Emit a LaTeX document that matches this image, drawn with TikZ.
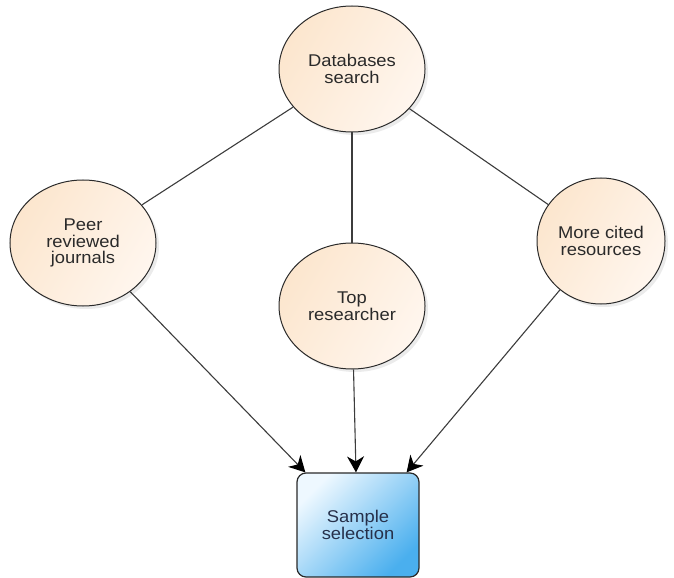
\documentclass[tikz,border=0pt]{standalone}
\usepackage{fontspec}
\setmainfont{Liberation Sans}[FakeStretch=1.08]
\usetikzlibrary{shapes.geometric,arrows.meta,shadows}

\definecolor{peachL}{HTML}{FCE6CE}
\definecolor{peachR}{HTML}{FFF6EE}
\definecolor{skyL}{HTML}{EEF8FF}
\definecolor{skyD}{HTML}{4AAFEE}
\definecolor{inkgray}{HTML}{2A2A2A}
\definecolor{linegray}{HTML}{3C3C3C}
\definecolor{boxtext}{HTML}{26304A}

\newcommand{\labelfont}{\fontsize{17bp}{16.7bp}\selectfont}

\begin{document}
\begin{tikzpicture}[
  x=1bp, y=-1bp,
  bubble/.style={ellipse, draw=inkgray, line width=1bp,
    minimum width=146bp, minimum height=126bp, inner sep=0pt,
    left color=peachL, right color=peachR, shading angle=60,
    align=center, font=\labelfont, text=inkgray,
    drop shadow={shadow xshift=3bp, shadow yshift=-3bp, opacity=.08, fill=black}},
  target/.style={rectangle, rounded corners=9bp, draw=inkgray, line width=1.2bp,
    minimum width=122bp, minimum height=104bp, inner sep=0pt,
    top color=skyL, bottom color=skyD, shading angle=45,
    align=center, font=\labelfont, text=boxtext},
  link/.style={draw=linegray, line width=1.1bp},
  feed/.style={link, -{Stealth[length=16bp,width=17bp,inset=5bp,color=black]}}
]
\useasboundingbox (0,0) rectangle (674,578);

% source and intermediate bubbles
\node[bubble] (db)   at (352,69)  {Databases\\search};
\node[bubble] (peer) at (83,243)  {Peer\\reviewed\\journals};
\node[bubble] (top)  at (352,306) {Top\\researcher};
\node[bubble, minimum width=128bp] (cited) at (601,241) {More cited\\resources};

% result box
\node[target] (sample) at (358,525) {Sample\\selection};

% entry points on the top edge of the box
\coordinate (inL) at ([xshift=9bp]sample.north west);
\coordinate (inM) at ([xshift=-2bp]sample.north);
\coordinate (inR) at ([xshift=-13bp]sample.north east);

% plain links from the search bubble
\draw[link] (db) -- (peer);
\draw[link] (db) -- (top);
\draw[link] (db) -- (cited);

% arrows into the selection box
\draw[feed] (peer) -- (inL);
\draw[feed] (top) -- (inM);
\draw[feed] (cited) -- (inR);
\end{tikzpicture}
\end{document}
